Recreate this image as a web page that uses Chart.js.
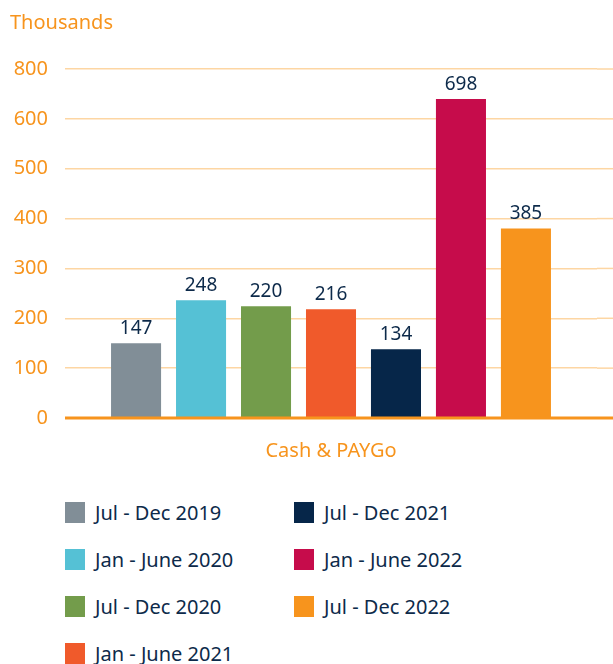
<!DOCTYPE html>
<html>
<head>
<meta charset="utf-8">
<script src="https://cdn.jsdelivr.net/npm/chart.js@4"></script>
<style>
  body { margin: 0; background: #fff; font-family: "Noto Sans", sans-serif; }
  #wrap { position: relative; width: 613px; height: 484px; }
  #legend {
    display: grid;
    grid-template-rows: repeat(4, 47px);
    grid-auto-flow: column;
    grid-template-columns: 229px 290px;
    margin: 17px 0 0 65px;
  }
  .item { display: flex; align-items: center; font-size: 20px; color: #0d2a4a; height: 22px; }
  .box { width: 20px; height: 21px; margin-right: 10px; flex: none; }
</style>
</head>
<body>
<div id="wrap"><canvas id="cashChart"></canvas></div>
<div id="legend"></div>
<script>
const categories = ["Cash & PAYGo"];
const periods = [
  "Jul - Dec 2019",
  "Jan - June 2020",
  "Jul - Dec 2020",
  "Jan - June 2021",
  "Jul - Dec 2021",
  "Jan - June 2022",
  "Jul - Dec 2022",
];
// bar heights as drawn against the gridlines
const barHeights = [150, 236, 224, 218, 138, 640, 380];
// values printed on top of the bars
const barLabels = [147, 248, 220, 216, 134, 698, 385];
const tickLabels = ["0", "100", "200", "300", "400", "500", "600", "800"];
const colors = ["#818e97", "#55c1d5", "#739c4b", "#f05a2b", "#062649", "#c60c4b", "#f7941d"];

const orange = "#f7941d";
const navy = "#0d2a4a";
const gridColor = "#fdd6a3";

// gridlines run on to the right edge of the canvas, zero line on top of the bars
const gridRunOn = {
  id: "gridRunOn",
  beforeDatasetsDraw(chart) {
    const ctx = chart.ctx;
    const y = chart.scales.y;
    ctx.save();
    ctx.strokeStyle = gridColor;
    ctx.lineWidth = 1.5;
    y.ticks.forEach((t) => {
      if (t.value === 0) return;
      const py = y.getPixelForValue(t.value);
      ctx.beginPath();
      ctx.moveTo(chart.chartArea.right, py);
      ctx.lineTo(chart.width, py);
      ctx.stroke();
    });
    ctx.restore();
  },
  afterDatasetsDraw(chart) {
    const ctx = chart.ctx;
    const py = chart.scales.y.getPixelForValue(0);
    ctx.save();
    ctx.strokeStyle = orange;
    ctx.lineWidth = 3;
    ctx.beginPath();
    ctx.moveTo(chart.chartArea.left, py);
    ctx.lineTo(chart.width, py);
    ctx.stroke();
    ctx.restore();
  },
};

const valueLabels = {
  id: "valueLabels",
  afterDatasetsDraw(chart) {
    const ctx = chart.ctx;
    ctx.save();
    ctx.font = "19px 'Noto Sans'";
    ctx.fillStyle = navy;
    ctx.textAlign = "center";
    ctx.textBaseline = "bottom";
    chart.data.datasets.forEach((ds, i) => {
      const bar = chart.getDatasetMeta(i).data[0];
      ctx.fillText(barLabels[i], bar.x, bar.y - 5);
    });
    ctx.restore();
  },
};

const chart = new Chart(document.getElementById("cashChart"), {
  type: "bar",
  data: {
    labels: categories,
    datasets: periods.map((p, i) => ({
      label: p,
      data: [barHeights[i]],
      backgroundColor: colors[i],
    })),
  },
  options: {
    responsive: true,
    maintainAspectRatio: false,
    animation: false,
    categoryPercentage: 0.855,
    barPercentage: 0.77,
    layout: { padding: { left: 10, right: 16 } },
    plugins: {
      legend: { display: false },
      tooltip: { enabled: false },
      title: {
        display: true,
        text: "Thousands",
        align: "start",
        color: orange,
        font: { family: "Noto Sans", size: 20, weight: "normal" },
        padding: { top: 11, bottom: 34 },
      },
    },
    scales: {
      x: {
        grid: { display: false, drawTicks: false },
        border: { display: false },
        ticks: {
          color: orange,
          font: { family: "Noto Sans", size: 20 },
          padding: 21,
        },
      },
      y: {
        min: 0,
        max: 700,
        border: { display: false },
        afterFit: (scale) => { scale.width = 55; },
        grid: {
          drawTicks: false,
          color: (c) => (c.tick && c.tick.value === 0 ? "rgba(0,0,0,0)" : gridColor),
          lineWidth: 1.5,
        },
        ticks: {
          stepSize: 100,
          color: orange,
          font: { family: "Noto Sans", size: 20 },
          padding: 17,
          callback: (v, i) => tickLabels[i],
        },
      },
    },
  },
  plugins: [gridRunOn, valueLabels],
});

// legend laid out column by column
const legend = document.getElementById("legend");
chart.data.datasets.forEach((ds) => {
  const item = document.createElement("div");
  item.className = "item";
  item.innerHTML = `<span class="box" style="background:${ds.backgroundColor}"></span>${ds.label}`;
  legend.appendChild(item);
});
</script>
</body>
</html>
